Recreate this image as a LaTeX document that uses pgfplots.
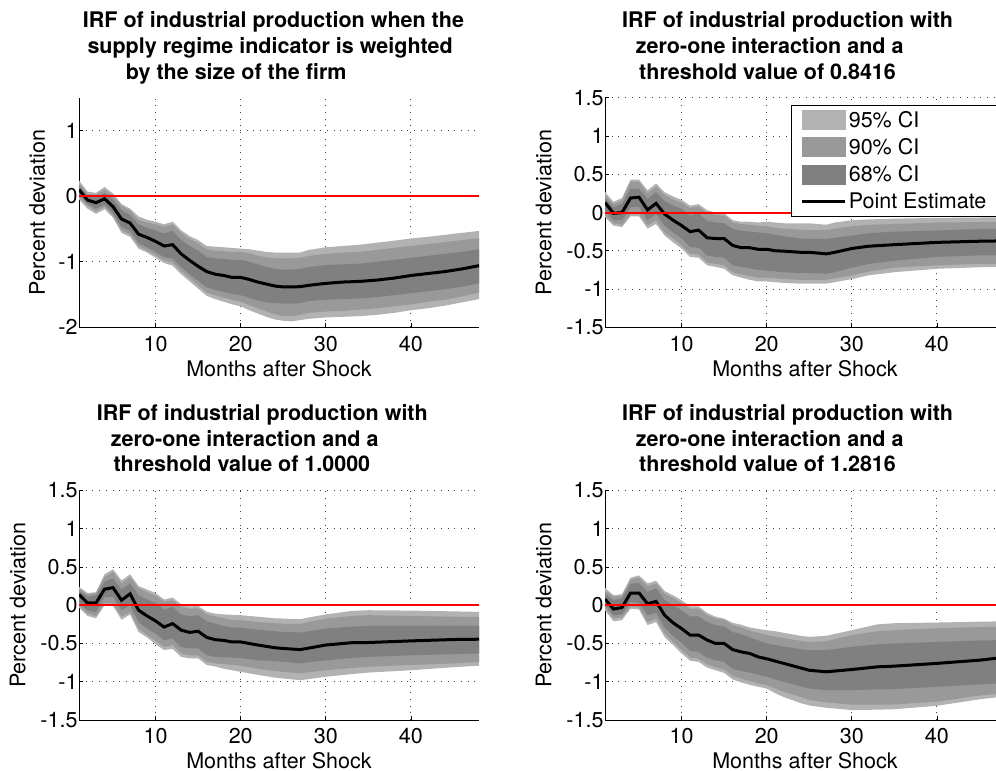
\documentclass[border=0pt]{standalone}
\usepackage{fontspec}
\setmainfont{TeX Gyre Heros}
\usepackage{pgfplots}
\pgfplotsset{compat=1.18}
\usepgfplotslibrary{fillbetween}
\usepackage{pgfplotstable}

\definecolor{ciA}{gray}{0.70}
\definecolor{ciB}{gray}{0.60}
\definecolor{ciC}{gray}{0.50}
\newcommand{\fs}{\fontsize{21.5pt}{25.8pt}\selectfont}

% m  point estimate  68% band  90% band  95% band
\pgfplotstableread{
m  pe     l68    u68    l90    u90    l95    u95
1  0.10   0.03   0.16   -0.02  0.20   -0.05  0.24
2  -0.06  -0.12  0.00   -0.15  0.04   -0.19  0.07
3  -0.10  -0.19  -0.02  -0.23  0.02   -0.27  0.05
4  -0.04  -0.13  0.05   -0.16  0.10   -0.20  0.14
5  -0.16  -0.26  -0.05  -0.30  0.01   -0.33  0.04
6  -0.35  -0.47  -0.21  -0.52  -0.15  -0.56  -0.12
7  -0.41  -0.53  -0.29  -0.58  -0.22  -0.62  -0.19
8  -0.58  -0.71  -0.43  -0.76  -0.36  -0.80  -0.31
9  -0.63  -0.78  -0.48  -0.83  -0.40  -0.86  -0.36
10 -0.69  -0.85  -0.52  -0.90  -0.43  -0.94  -0.39
11 -0.76  -0.93  -0.57  -0.98  -0.47  -1.02  -0.43
12 -0.74  -0.95  -0.53  -1.01  -0.43  -1.06  -0.39
13 -0.88  -1.08  -0.67  -1.14  -0.56  -1.19  -0.52
14 -0.98  -1.19  -0.76  -1.25  -0.65  -1.30  -0.61
15 -1.07  -1.29  -0.83  -1.36  -0.72  -1.41  -0.67
16 -1.15  -1.39  -0.93  -1.47  -0.81  -1.52  -0.76
17 -1.19  -1.43  -0.95  -1.51  -0.83  -1.57  -0.77
18 -1.21  -1.46  -0.96  -1.55  -0.84  -1.61  -0.78
19 -1.24  -1.49  -0.97  -1.58  -0.85  -1.65  -0.79
20 -1.24  -1.51  -0.97  -1.61  -0.85  -1.68  -0.80
21 -1.27  -1.55  -1.00  -1.66  -0.87  -1.74  -0.81
22 -1.31  -1.59  -1.04  -1.71  -0.91  -1.79  -0.83
23 -1.34  -1.62  -1.08  -1.76  -0.93  -1.84  -0.85
24 -1.37  -1.63  -1.11  -1.80  -0.95  -1.88  -0.86
25 -1.385 -1.64  -1.12  -1.83  -0.95  -1.90  -0.86
26 -1.385 -1.64  -1.12  -1.83  -0.95  -1.91  -0.86
27 -1.38  -1.63  -1.11  -1.81  -0.94  -1.89  -0.86
28 -1.36  -1.60  -1.08  -1.78  -0.91  -1.87  -0.82
30 -1.33  -1.58  -1.05  -1.76  -0.88  -1.85  -0.78
32 -1.31  -1.57  -1.04  -1.75  -0.86  -1.84  -0.76
34 -1.30  -1.56  -1.03  -1.73  -0.85  -1.83  -0.74
36 -1.28  -1.54  -1.00  -1.71  -0.82  -1.81  -0.71
38 -1.25  -1.51  -0.97  -1.68  -0.79  -1.78  -0.68
40 -1.21  -1.48  -0.94  -1.65  -0.76  -1.74  -0.645
42 -1.18  -1.45  -0.91  -1.61  -0.73  -1.71  -0.62
44 -1.15  -1.42  -0.88  -1.58  -0.70  -1.67  -0.59
46 -1.11  -1.38  -0.85  -1.53  -0.67  -1.62  -0.56
48 -1.06  -1.33  -0.81  -1.47  -0.64  -1.57  -0.53
}\irfsize

\pgfplotstableread{
m  pe     l68    u68    l90    u90    l95    u95
1  0.13   0.03   0.19   -0.03  0.23   -0.06  0.27
2  -0.01  -0.10  0.07   -0.14  0.11   -0.17  0.14
3  0.00   -0.10  0.11   -0.16  0.16   -0.19  0.19
4  0.19   0.07   0.31   -0.02  0.40   -0.05  0.43
5  0.20   0.07   0.31   -0.02  0.40   -0.05  0.43
6  0.035  -0.10  0.18   -0.17  0.25   -0.21  0.29
7  0.12   -0.02  0.265  -0.10  0.34   -0.15  0.38
8  -0.02  -0.17  0.15   -0.26  0.23   -0.30  0.265
9  -0.10  -0.26  0.09   -0.34  0.17   -0.39  0.21
10 -0.17  -0.34  0.05   -0.43  0.13   -0.47  0.165
11 -0.25  -0.45  -0.04  -0.54  0.06   -0.58  0.09
12 -0.23  -0.46  -0.01  -0.55  0.08   -0.59  0.11
13 -0.33  -0.56  -0.11  -0.65  -0.01  -0.69  0.03
14 -0.34  -0.58  -0.13  -0.67  -0.03  -0.71  0.00
15 -0.34  -0.59  -0.14  -0.69  -0.04  -0.735 -0.01
16 -0.43  -0.69  -0.21  -0.78  -0.13  -0.82  -0.10
17 -0.46  -0.71  -0.24  -0.81  -0.15  -0.85  -0.12
18 -0.46  -0.73  -0.25  -0.83  -0.16  -0.88  -0.12
19 -0.48  -0.75  -0.26  -0.85  -0.17  -0.90  -0.13
20 -0.48  -0.76  -0.27  -0.85  -0.18  -0.90  -0.12
21 -0.50  -0.77  -0.29  -0.86  -0.20  -0.91  -0.13
22 -0.505 -0.78  -0.31  -0.87  -0.21  -0.92  -0.14
24 -0.52  -0.79  -0.34  -0.88  -0.225 -0.93  -0.14
25 -0.52  -0.79  -0.345 -0.88  -0.23  -0.93  -0.14
27 -0.54  -0.80  -0.345 -0.88  -0.23  -0.93  -0.16
28 -0.52  -0.78  -0.33  -0.86  -0.21  -0.91  -0.13
30 -0.47  -0.72  -0.30  -0.82  -0.18  -0.87  -0.10
32 -0.44  -0.67  -0.27  -0.77  -0.16  -0.82  -0.09
35 -0.42  -0.63  -0.25  -0.72  -0.15  -0.78  -0.08
40 -0.39  -0.58  -0.235 -0.69  -0.13  -0.735 -0.07
45 -0.375 -0.56  -0.215 -0.67  -0.125 -0.715 -0.065
48 -0.37  -0.56  -0.21  -0.67  -0.12  -0.71  -0.06
}\irfA

\pgfplotstableread{
m  pe     l68    u68    l90    u90    l95    u95
1  0.14   0.04   0.19   0.00   0.22   -0.03  0.24
2  0.03   -0.07  0.11   -0.11  0.14   -0.14  0.16
3  0.03   -0.09  0.13   -0.14  0.16   -0.17  0.17
4  0.21   0.11   0.305  0.03   0.37   0.00   0.405
5  0.23   0.11   0.35   0.02   0.435  -0.01  0.47
6  0.065  -0.065 0.205  -0.145 0.285  -0.19  0.325
7  0.15   0.00   0.285  -0.09  0.37   -0.12  0.405
8  -0.065 -0.22  0.13   -0.305 0.22   -0.35  0.25
9  -0.14  -0.305 0.075  -0.39  0.17   -0.42  0.205
10 -0.205 -0.37  0.03   -0.465 0.125  -0.51  0.16
11 -0.285 -0.455 -0.055 -0.545 0.045  -0.585 0.075
12 -0.24  -0.435 -0.02  -0.52  0.065  -0.57  0.10
13 -0.325 -0.545 -0.12  -0.63  -0.02  -0.675 0.015
14 -0.355 -0.565 -0.145 -0.655 -0.045 -0.695 -0.015
15 -0.34  -0.565 -0.13  -0.655 -0.04  -0.695 -0.01
16 -0.42  -0.65  -0.21  -0.74  -0.12  -0.78  -0.085
17 -0.45  -0.675 -0.24  -0.76  -0.145 -0.80  -0.11
18 -0.46  -0.68  -0.27  -0.77  -0.17  -0.83  -0.12
19 -0.48  -0.685 -0.29  -0.78  -0.19  -0.85  -0.125
20 -0.48  -0.69  -0.295 -0.79  -0.195 -0.87  -0.13
22 -0.52  -0.72  -0.32  -0.83  -0.22  -0.91  -0.15
24 -0.555 -0.73  -0.34  -0.86  -0.235 -0.945 -0.17
25 -0.565 -0.74  -0.348 -0.87  -0.24  -0.957 -0.174
27 -0.58  -0.76  -0.357 -0.89  -0.245 -0.98  -0.183
28 -0.56  -0.745 -0.34  -0.875 -0.22  -0.965 -0.16
30 -0.52  -0.72  -0.305 -0.85  -0.175 -0.935 -0.12
33 -0.49  -0.69  -0.28  -0.82  -0.14  -0.90  -0.075
35 -0.487 -0.675 -0.27  -0.805 -0.13  -0.88  -0.065
40 -0.466 -0.655 -0.27  -0.78  -0.14  -0.85  -0.07
45 -0.448 -0.64  -0.27  -0.76  -0.15  -0.81  -0.08
48 -0.444 -0.63  -0.27  -0.74  -0.152 -0.79  -0.087
}\irfB

\pgfplotstableread{
m  pe     l68    u68    l90    u90    l95    u95
1  0.08   0.00   0.15   -0.03  0.19   -0.065 0.225
2  -0.05  -0.13  0.065  -0.17  0.11   -0.21  0.13
3  -0.03  -0.12  0.09   -0.16  0.12   -0.195 0.145
4  0.16   0.045  0.28   -0.02  0.335  -0.045 0.36
5  0.16   0.03   0.29   -0.03  0.36   -0.055 0.39
6  0.02   -0.13  0.175  -0.22  0.25   -0.26  0.285
7  0.05   -0.10  0.22   -0.175 0.285  -0.22  0.32
8  -0.13  -0.29  0.065  -0.37  0.15   -0.415 0.185
9  -0.23  -0.405 0.00   -0.48  0.095  -0.52  0.13
10 -0.305 -0.49  -0.065 -0.585 0.03   -0.63  0.065
11 -0.39  -0.595 -0.145 -0.685 -0.045 -0.725 -0.015
12 -0.39  -0.61  -0.145 -0.70  -0.045 -0.74  -0.015
13 -0.455 -0.685 -0.22  -0.77  -0.13  -0.815 -0.10
14 -0.50  -0.72  -0.26  -0.81  -0.175 -0.85  -0.15
15 -0.50  -0.74  -0.275 -0.84  -0.19  -0.885 -0.175
16 -0.58  -0.83  -0.35  -0.925 -0.26  -0.97  -0.23
17 -0.61  -0.86  -0.38  -0.96  -0.29  -1.01  -0.255
18 -0.63  -0.88  -0.42  -0.99  -0.33  -1.04  -0.29
19 -0.675 -0.91  -0.46  -1.02  -0.36  -1.065 -0.31
20 -0.70  -0.935 -0.50  -1.045 -0.39  -1.09  -0.326
21 -0.73  -0.97  -0.52  -1.09  -0.41  -1.15  -0.34
22 -0.76  -1.00  -0.54  -1.13  -0.43  -1.20  -0.36
24 -0.82  -1.06  -0.575 -1.20  -0.465 -1.28  -0.40
25 -0.85  -1.09  -0.587 -1.24  -0.48  -1.31  -0.413
27 -0.87  -1.11  -0.587 -1.27  -0.47  -1.34  -0.40
30 -0.84  -1.11  -0.544 -1.30  -0.39  -1.37  -0.326
33 -0.805 -1.10  -0.51  -1.30  -0.34  -1.365 -0.25
35 -0.796 -1.097 -0.50  -1.297 -0.326 -1.36  -0.235
40 -0.76  -1.066 -0.48  -1.26  -0.30  -1.314 -0.226
45 -0.718 -1.035 -0.46  -1.18  -0.285 -1.23  -0.215
48 -0.68  -1.02  -0.455 -1.15  -0.28  -1.19  -0.21
}\irfC

\pgfplotsset{
  irf/.style={
    scale only axis, width=400pt, height=229.5pt,
    xmin=1, xmax=48,
    axis x line*=bottom, axis y line*=left,
    axis line style={black, line width=0.8pt},
    xtick={10,20,30,40}, xticklabels={10,20,30,40},
    tick align=inside, major tick length=4pt,
    tick style={black, line width=0.8pt},
    grid=major,
    major grid style={black!75, line width=0.9pt, dash pattern=on 0.9pt off 5.8pt},
    ticklabel style={font=\fs},
    label style={font=\fs},
    xlabel={Months after Shock},
    ylabel={Percent deviation},
    xlabel style={at={(axis description cs:0.5,0)}, anchor=base, yshift=-49pt},
    xticklabel style={yshift=-5pt},
    yticklabel style={xshift=2pt},
  },
  wide/.style={ymin=-1.5, ymax=1.5,
    ytick={-1.5,-1,-0.5,0,0.5,1,1.5},
    yticklabels={-1.5,-1,-0.5,0,0.5,1,1.5},
    ylabel style={at={(axis description cs:-0.134,0.5)}, anchor=base}},
  patchleg/.style={legend image code/.code={\fill[##1] (0pt,-10pt) rectangle (44pt,10pt);}},
  lineleg/.style={legend image code/.code={\draw[##1] (0pt,0pt) -- (43pt,0pt);}},
}

\newcommand{\irfplot}[1]{%
  \addplot[draw=none, forget plot, name path=u95] table[x=m, y=u95] {#1};
  \addplot[draw=none, forget plot, name path=l95] table[x=m, y=l95] {#1};
  \addplot[draw=none, forget plot, name path=u90] table[x=m, y=u90] {#1};
  \addplot[draw=none, forget plot, name path=l90] table[x=m, y=l90] {#1};
  \addplot[draw=none, forget plot, name path=u68] table[x=m, y=u68] {#1};
  \addplot[draw=none, forget plot, name path=l68] table[x=m, y=l68] {#1};
  \addplot[fill=ciA, draw=none, patchleg] fill between[of=u95 and l95];
  \addplot[fill=ciB, draw=none, patchleg] fill between[of=u90 and l90];
  \addplot[fill=ciC, draw=none, patchleg] fill between[of=u68 and l68];
  \addplot[black, line width=3pt, lineleg] table[x=m, y=pe] {#1};
  \addplot[red, line width=2pt, forget plot] coordinates {(1,0) (48,0)};
}

\begin{document}
\begin{tikzpicture}

\begin{axis}[irf, at={(79pt,443.7pt)}, anchor=south west,
  ymin=-2, ymax=1.5, ytick={-2,-1,0,1}, yticklabels={-2,-1,0,1},
  ylabel style={at={(axis description cs:-0.085,0.5)}, anchor=base}]
\irfplot{\irfsize}
\end{axis}

\begin{axis}[irf, wide, at={(605pt,443.7pt)}, anchor=south west,
  legend entries={95\% CI, 90\% CI, 68\% CI, Point Estimate\hspace*{12pt}},
  legend cell align=left,
  legend style={at={(0.466,0.969)}, anchor=north west, draw=black,
    line width=0.8pt, fill=white, font=\fs, inner xsep=9pt, inner ysep=4pt,
    row sep=5.7pt, nodes={inner sep=2pt}}]
\irfplot{\irfA}
\end{axis}

\begin{axis}[irf, wide, at={(79pt,51pt)}, anchor=south west]
\irfplot{\irfB}
\end{axis}

\begin{axis}[irf, wide, at={(605pt,51pt)}, anchor=south west]
\irfplot{\irfC}
\end{axis}

\begin{scope}[every node/.style={anchor=base west, inner sep=0pt, font=\fs\bfseries}]
\node at (82.7pt,743pt) {IRF of industrial production when the};
\node at (87.3pt,717.2pt) {supply regime indicator is weighted};
\node at (125.7pt,691.4pt) {by the size of the firm};
\node at (622pt,743pt) {IRF of industrial production with};
\node at (635.7pt,717.2pt) {zero-one interaction and a};
\node at (639pt,691.4pt) {threshold value of 0.8416};
\node at (96.7pt,350.7pt) {IRF of industrial production with};
\node at (110.7pt,324.9pt) {zero-one interaction and a};
\node at (113.3pt,299.1pt) {threshold value of 1.0000};
\node at (622pt,350.7pt) {IRF of industrial production with};
\node at (635.7pt,324.9pt) {zero-one interaction and a};
\node at (639pt,299.1pt) {threshold value of 1.2816};
\end{scope}

\pgfresetboundingbox
\useasboundingbox (0pt,0pt) rectangle (996pt,771pt);
\end{tikzpicture}
\end{document}
